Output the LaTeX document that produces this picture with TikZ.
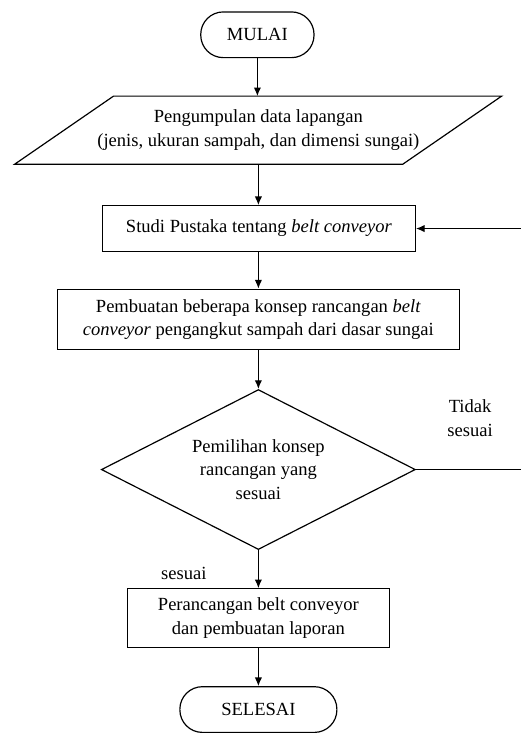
\documentclass[tikz,border=0pt]{standalone}
\usepackage{fontspec}
\setmainfont{Liberation Serif}[Ligatures=TeX]
\usetikzlibrary{shapes.geometric,arrows.meta,calc}

\begin{document}
\begin{tikzpicture}[x=0.75pt,y=0.75pt,yscale=-1,xscale=1,
  every node/.style={font=\rmfamily\fontsize{14}{18}\selectfont},
  box/.style={draw,line width=0.9pt,align=center,inner sep=2pt},
  term/.style={box,rounded corners=17pt,minimum height=34.5pt},
  flow/.style={line width=0.9pt,-{Latex[length=6.5pt,width=5.5pt]}},
  lbl/.style={fill=white,align=center,inner sep=3pt}]
%set diagram to the size of the page
\path (0,0) rectangle (524,733);

%Shape: Terminator
\node [term,minimum width=85.5pt] (mulai) at (259,35) {MULAI};
%Shape: Parallelogram (outline drawn below)
\node [align=center,minimum width=292.5pt,minimum height=51pt,inner sep=0pt] (data) at (260,131) {Pengumpulan data lapangan\\(jenis, ukuran sampah, dan dimensi sungai)};
\draw [line width=0.9pt] ($(data.north west)+(49.5,0)$) -- ($(data.north east)+(49.5,0)$) -- ($(data.south east)+(-50,0)$) -- ($(data.south west)+(-50,0)$) -- cycle ;
%Shape: Rectangle
\node [box,minimum width=236.25pt,minimum height=34.5pt] (studi) at (260.5,230) {Studi Pustaka tentang \textit{belt conveyor}};
%Shape: Rectangle
\node [box,minimum width=303pt,minimum height=45.75pt] (konsep) at (260,321.5) {Pembuatan beberapa konsep rancangan \textit{belt}\\\textit{conveyor} pengangkut sampah dari dasar sungai};
%Shape: Diamond
\node [box,diamond,aspect=1.96,minimum width=237pt,minimum height=120.75pt,inner sep=0pt] (pilih) at (260,472.5) {Pemilihan konsep\\rancangan yang\\sesuai};
%Shape: Rectangle
\node [box,minimum width=198pt,minimum height=44.25pt] (rancang) at (260,622) {Perancangan belt conveyor\\dan pembuatan laporan};
%Shape: Terminator
\node [term,minimum width=118.5pt] (selesai) at (260,714) {SELESAI};

%free ends at the right margin
\coordinate (tepiA) at (524,230);
\coordinate (tepiB) at (524,472.5);

%Straight Lines
\draw [flow] (mulai.south) -- (mulai.south |- data.north);
\draw [flow] (data.south) -- (studi.north -| data.south);
\draw [flow] (studi.south -| konsep.north) -- (konsep.north);
\draw [flow] (konsep.south) -- (pilih.north);
\draw [flow] (pilih.south) -- (rancang.north);
\draw [flow] (rancang.south) -- (selesai.north);
\draw [line width=0.9pt] (pilih.east) -- (tepiB);
\draw [flow] (tepiA) -- (studi.east);

% Text Node
\node [lbl] (tidak) at (473,421) {Tidak\\sesuai};
% Text Node
\node [lbl] (ya) at (185,577) {sesuai};
\end{tikzpicture}
\end{document}
